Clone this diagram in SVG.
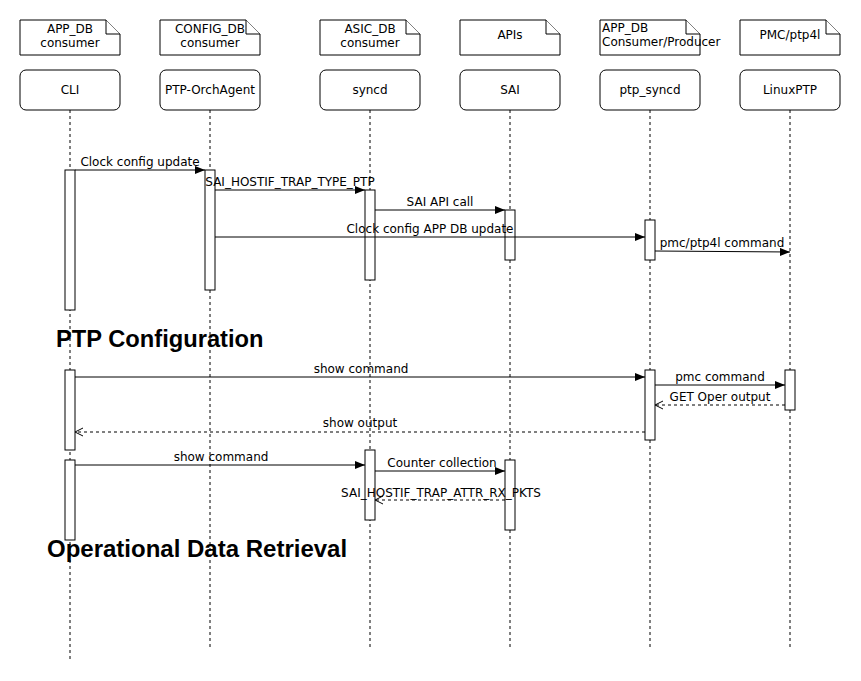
<svg xmlns="http://www.w3.org/2000/svg" width="861" height="681" viewBox="0 0 861 681">
<style>
  .bg{fill:#ffffff}
  .note{fill:#ffffff;stroke:#000;stroke-width:1}
  .box{fill:#ffffff;stroke:#000;stroke-width:1}
  .life{stroke:#000;stroke-width:1;stroke-dasharray:3 3;fill:none}
  .bar{fill:#ffffff;stroke:#000;stroke-width:1}
  .msg{stroke:#000;stroke-width:1;fill:none}
  .ret{stroke:#000;stroke-width:1;fill:none;stroke-dasharray:3 3}
  .t{font-family:"DejaVu Sans",Verdana,sans-serif;font-size:12px;fill:#000}
  .c{text-anchor:middle}
  .h{font-family:"Liberation Sans",Arial,Helvetica,sans-serif;font-weight:bold;fill:#000}
</style>
<defs>
  <marker id="block" viewBox="0 0 10 8" refX="10" refY="4" markerWidth="10" markerHeight="8" markerUnits="userSpaceOnUse" orient="auto">
    <path d="M0,0 L10,4 L0,8 z" fill="#000"/>
  </marker>
  <marker id="open" viewBox="0 0 10 10" refX="9" refY="5" markerWidth="10" markerHeight="10" markerUnits="userSpaceOnUse" orient="auto">
    <path d="M1,1 L9,5 L1,9" fill="none" stroke="#000" stroke-width="1"/>
  </marker>
</defs>
<rect class="bg" x="0" y="0" width="861" height="681"/>

<g id="lifelines">
  <line class="life" x1="70" y1="110" x2="70" y2="660"/>
  <line class="life" x1="210" y1="110" x2="210" y2="648"/>
  <line class="life" x1="370" y1="110" x2="370" y2="648"/>
  <line class="life" x1="510" y1="110" x2="510" y2="648"/>
  <line class="life" x1="650" y1="110" x2="650" y2="648"/>
  <line class="life" x1="790" y1="110" x2="790" y2="648"/>
</g>

<g id="note-cli">
  <path class="note" d="M20,20 H106 L120,34 V55 H20 Z"/>
  <path class="note" d="M106,20 V34 H120" fill="none"/>
  <text class="t c" x="70" y="33">APP_DB</text>
  <text class="t c" x="70" y="47">consumer</text>
</g>
<g id="note-orch">
  <path class="note" d="M160,20 H246 L260,34 V55 H160 Z"/>
  <path class="note" d="M246,20 V34 H260" fill="none"/>
  <text class="t c" x="210" y="33">CONFIG_DB</text>
  <text class="t c" x="210" y="47">consumer</text>
</g>
<g id="note-syncd">
  <path class="note" d="M320,20 H406 L420,34 V55 H320 Z"/>
  <path class="note" d="M406,20 V34 H420" fill="none"/>
  <text class="t c" x="370" y="33">ASIC_DB</text>
  <text class="t c" x="370" y="47">consumer</text>
</g>
<g id="note-sai">
  <path class="note" d="M460,20 H546 L560,34 V55 H460 Z"/>
  <path class="note" d="M546,20 V34 H560" fill="none"/>
  <text class="t c" x="510" y="39">APIs</text>
</g>
<g id="note-ptpsyncd">
  <path class="note" d="M600,20 H686 L700,34 V55 H600 Z"/>
  <path class="note" d="M686,20 V34 H700" fill="none"/>
  <text class="t" x="602" y="32">APP_DB</text>
  <text class="t" x="602" y="46">Consumer/Producer</text>
</g>
<g id="note-linuxptp">
  <path class="note" d="M740,20 H826 L840,34 V55 H740 Z"/>
  <path class="note" d="M826,20 V34 H840" fill="none"/>
  <text class="t c" x="790" y="39">PMC/ptp4l</text>
</g>

<g id="cli">
  <rect class="box" x="20" y="70" width="100" height="40" rx="6"/>
  <text class="t c" x="70" y="94">CLI</text>
</g>
<g id="ptp-orchagent">
  <rect class="box" x="160" y="70" width="100" height="40" rx="6"/>
  <text class="t c" x="210" y="94">PTP-OrchAgent</text>
</g>
<g id="syncd">
  <rect class="box" x="320" y="70" width="100" height="40" rx="6"/>
  <text class="t c" x="370" y="94">syncd</text>
</g>
<g id="sai">
  <rect class="box" x="460" y="70" width="100" height="40" rx="6"/>
  <text class="t c" x="510" y="94">SAI</text>
</g>
<g id="ptp_syncd">
  <rect class="box" x="600" y="70" width="100" height="40" rx="6"/>
  <text class="t c" x="650" y="94">ptp_syncd</text>
</g>
<g id="linuxptp">
  <rect class="box" x="740" y="70" width="100" height="40" rx="6"/>
  <text class="t c" x="790" y="94">LinuxPTP</text>
</g>

<g id="activations">
  <rect class="bar" x="65" y="170" width="10" height="140"/>
  <rect class="bar" x="205" y="170" width="10" height="120"/>
  <rect class="bar" x="365" y="190" width="10" height="90"/>
  <rect class="bar" x="505" y="210" width="10" height="50"/>
  <rect class="bar" x="645" y="220" width="10" height="40"/>
  <rect class="bar" x="65" y="370" width="10" height="80"/>
  <rect class="bar" x="645" y="370" width="10" height="70"/>
  <rect class="bar" x="785" y="370" width="10" height="40"/>
  <rect class="bar" x="65" y="460" width="10" height="80"/>
  <rect class="bar" x="365" y="450" width="10" height="70"/>
  <rect class="bar" x="505" y="460" width="10" height="70"/>
</g>

<g id="connectors">
  <line class="msg" x1="75" y1="170" x2="205" y2="170" marker-end="url(#block)"/>
  <line class="msg" x1="215" y1="190" x2="365" y2="190" marker-end="url(#block)"/>
  <line class="msg" x1="375" y1="210" x2="505" y2="210" marker-end="url(#block)"/>
  <line class="msg" x1="215" y1="237" x2="645" y2="237" marker-end="url(#block)"/>
  <line class="msg" x1="655" y1="251" x2="790" y2="252" marker-end="url(#block)"/>
  <line class="msg" x1="75" y1="377" x2="645" y2="377" marker-end="url(#block)"/>
  <line class="msg" x1="655" y1="385" x2="785" y2="385" marker-end="url(#block)"/>
  <line class="ret" x1="785" y1="405" x2="655" y2="405" marker-end="url(#open)"/>
  <line class="ret" x1="645" y1="432" x2="75" y2="432" marker-end="url(#open)"/>
  <line class="msg" x1="75" y1="465" x2="365" y2="465" marker-end="url(#block)"/>
  <line class="msg" x1="375" y1="471" x2="505" y2="471" marker-end="url(#block)"/>
  <line class="ret" x1="505" y1="500" x2="375" y2="500" marker-end="url(#open)"/>
  <text class="t c" x="140" y="166">Clock config update</text>
  <text class="t c" x="290" y="186">SAI_HOSTIF_TRAP_TYPE_PTP</text>
  <text class="t c" x="440" y="206">SAI API call</text>
  <text class="t c" x="430" y="233">Clock config APP DB update</text>
  <text class="t c" x="722" y="247">pmc/ptp4l command</text>
  <text class="t c" x="361" y="373">show command</text>
  <text class="t c" x="720" y="381">pmc command</text>
  <text class="t c" x="720" y="401">GET Oper output</text>
  <text class="t c" x="360" y="427">show output</text>
  <text class="t c" x="221" y="461">show command</text>
  <text class="t c" x="442" y="467">Counter collection</text>
  <text class="t c" x="441" y="497">SAI_HOSTIF_TRAP_ATTR_RX_PKTS</text>
</g>

<text class="h" x="56" y="347" font-size="23.7">PTP Configuration</text>
<text class="h" x="47" y="557" font-size="24">Operational Data Retrieval</text>
</svg>
